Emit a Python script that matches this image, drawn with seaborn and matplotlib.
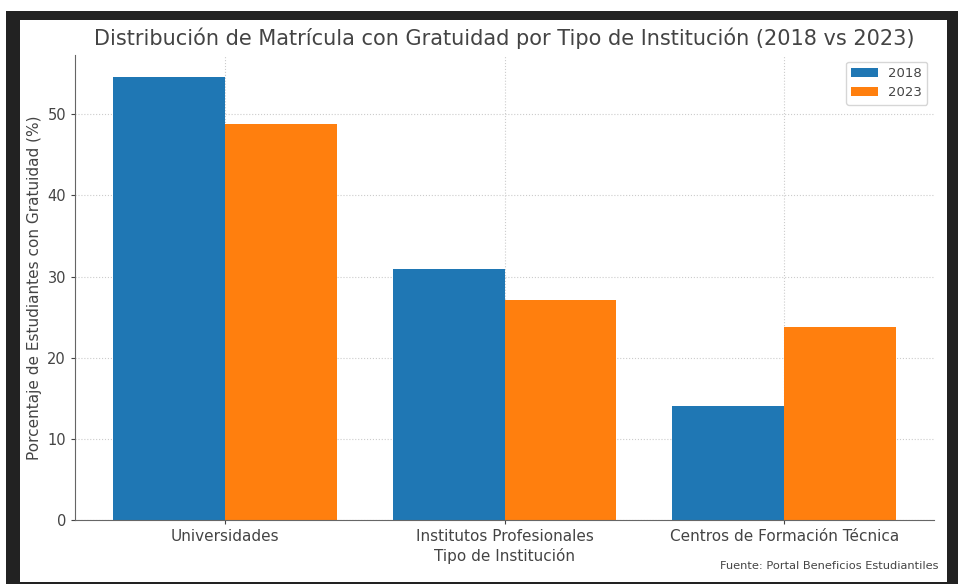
import pandas as pd
import matplotlib
matplotlib.use('Agg')
import matplotlib.pyplot as plt
import matplotlib.patches as mpatches
import seaborn as sns

# Data
instituciones = ['Universidades', 'Institutos Profesionales', 'Centros de Formación Técnica']
pct_2018 = [54.6, 30.9, 14.0]
pct_2023 = [48.8, 27.1, 23.8]
years = ['2018', '2023']

df = pd.DataFrame({
    'Tipo': instituciones * 2,
    'Año': ['2018'] * 3 + ['2023'] * 3,
    'Pct': pct_2018 + pct_2023,
})

sns.set_style('white')
plt.rcParams['font.family'] = ['DejaVu Sans']

fig = plt.figure(figsize=(9.58, 5.84), dpi=100)
fig.patch.set_facecolor('white')
# screenshot frame: dark border around the white plot area
fig.patches.append(mpatches.Rectangle((6 / 958, 0), 1, 1 - 11 / 584, transform=fig.transFigure,
                                      facecolor='#222222', edgecolor='none', zorder=-2))
fig.patches.append(mpatches.Rectangle((20 / 958, 2 / 584), (947 - 20) / 958, (582 - 20) / 584,
                                      transform=fig.transFigure, facecolor='white',
                                      edgecolor='none', zorder=-1))

ax = fig.add_axes([75 / 958, 1 - 520 / 584, (934 - 75) / 958, (520 - 55) / 584])
ax.set_facecolor('none')

sns.barplot(data=df, x='Tipo', y='Pct', hue='Año', hue_order=years,
            palette=['#1f77b4', '#ff7f0e'], width=0.8, saturation=1,
            edgecolor='none', linewidth=0, ax=ax)

ax.set_xlim(-0.534, 2.534)
ax.set_ylim(0, 57.3)
ax.set_yticks([0, 10, 20, 30, 40, 50])
ax.grid(True, linestyle=':', color='#cccccc', linewidth=0.8)
ax.set_axisbelow(True)
sns.despine(ax=ax)
for s in ['left', 'bottom']:
    ax.spines[s].set_color('#666666')
ax.tick_params(axis='y', colors='#444444', labelsize=10.5, length=3, left=True)
ax.tick_params(axis='x', colors='#444444', labelsize=11, length=3, bottom=True)

ax.set_title('Distribución de Matrícula con Gratuidad por Tipo de Institución (2018 vs 2023)',
             fontsize=15, color='#444444', pad=7)
ax.set_xlabel('Tipo de Institución', fontsize=11, color='#444444', labelpad=3)
ax.set_ylabel('Porcentaje de Estudiantes con Gratuidad (%)', fontsize=11, color='#444444')

leg = ax.legend(title=None, loc='upper right', fontsize=9.5, frameon=True)
for t in leg.get_texts():
    t.set_color('#444444')

fig.text(938 / 958, 1 - 566 / 584, 'Fuente: Portal Beneficios Estudiantiles',
         ha='right', va='center', fontsize=8.2, color='#444444')

fig.savefig('out.png', dpi=100)
